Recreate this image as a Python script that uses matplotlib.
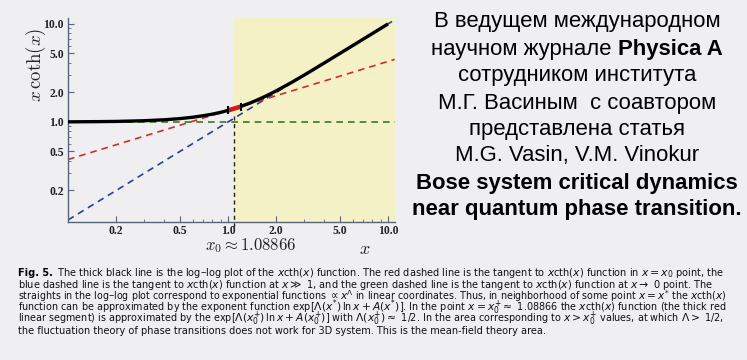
import matplotlib
matplotlib.use("Agg")
import matplotlib.pyplot as plt
from matplotlib.ticker import FixedLocator, NullFormatter

# ---- data ----
x_curve = [0.1, 0.15, 0.2, 0.3, 0.4, 0.5, 0.6, 0.7, 0.8, 0.9, 1.0, 1.1, 1.2,
           1.35, 1.5, 1.75, 2.0, 2.5, 3.0, 4.0, 5.0, 6.0, 8.0, 10.0]
y_curve = [1.003, 1.008, 1.013, 1.030, 1.053, 1.082, 1.117, 1.158, 1.203,
           1.253, 1.313, 1.374, 1.439, 1.544, 1.657, 1.859, 2.075, 2.534,
           3.015, 4.003, 5.0, 6.0, 8.0, 10.0]
red_x = [0.1, 11.0]
red_y = [0.414, 4.35]
blue_x = [0.1, 11.0]
blue_y = [0.1, 11.0]
green_x = [0.1, 11.0]
green_y = [1.0, 1.0]
seg_x = [1.0, 1.2]
seg_y = [1.310, 1.435]
x0 = 1.08866
vline_y = [0.085, 1.15]
xticks = [0.2, 0.5, 1.0, 2.0, 5.0, 10.0]
yticks = [0.2, 0.5, 1.0, 2.0, 5.0, 10.0]
tick_labels = ["0.2", "0.5", "1.0", "2.0", "5.0", "10.0"]
minor_x = [0.3, 0.4, 0.6, 0.7, 0.8, 0.9, 3, 4, 6, 7, 8, 9]
minor_y = [0.3, 0.4, 0.6, 0.7, 0.8, 0.9, 3, 4, 6, 7, 8, 9]

ru_lines = ["В ведущем международном",
            ("научном журнале ", "Physica A"),
            "сотрудником института",
            "М.Г. Васиным  с соавтором",
            "представлена статья",
            "M.G. Vasin, V.M. Vinokur"]
ru_bold = ["Bose system critical dynamics",
           "near quantum phase transition."]

caption = [
    r"The thick black line is the log–log plot of the $x$cth($x$) function. The red dashed line is the tangent to $x$cth($x$) function in $x = x_0$ point, the",
    r"blue dashed line is the tangent to $x$cth($x$) function at $x \gg$ 1, and the green dashed line is the tangent to $x$cth($x$) function at $x \rightarrow$ 0 point. The",
    r"straights in the log–log plot correspond to exponential functions $\propto x^{\Lambda}$ in linear coordinates. Thus, in neighborhood of some point $x = x^{*}$ the $x$cth($x$)",
    r"function can be approximated by the exponent function exp[$\Lambda(x^{*})\,$ln$\,x + A(x^{*})$]. In the point $x = x_0^{+} \approx$ 1.08866 the $x$cth($x$) function (the thick red",
    r"linear segment) is approximated by the exp[$\Lambda(x_0^{+})\,$ln$\,x + A(x_0^{+})$] with $\Lambda(x_0^{+}) \approx$ 1/2. In the area corresponding to $x > x_0^{+}$ values, at which $\Lambda >$ 1/2,",
    r"the fluctuation theory of phase transitions does not work for 3D system. This is the mean-field theory area.",
]

bg = "#efeff2"
fig = plt.figure(figsize=(7.47, 3.6), dpi=100, facecolor=bg)
ax = fig.add_axes([68/747, 1-222/360, (395-68)/747, (222-18)/360])
ax.set_facecolor("none")
ax.set_xscale("log")
ax.set_yscale("log")
ax.set_xlim(0.1, 11.06)
ax.set_ylim(0.0954, 11.5)

ax.axvspan(x0, 11.06, color="#f4f1c6", zorder=0, lw=0)

ax.plot(green_x, green_y, color="#3a7a20", lw=1.2, dashes=(4, 3), zorder=2)
ax.plot(blue_x, blue_y, color="#2a3f9a", lw=1.2, dashes=(4, 3), zorder=2)
ax.plot(red_x, red_y, color="#d62a2a", lw=1.2, dashes=(4, 3), zorder=2)
ax.plot([x0, x0], vline_y, color="#222222", lw=1.0, dashes=(3, 2.5), zorder=2, clip_on=False)
ax.plot(x_curve, y_curve, color="black", lw=2.4, zorder=3, solid_capstyle="butt")
ax.plot(seg_x, seg_y, color="#d61818", lw=3.2, zorder=4, solid_capstyle="butt")
ax.plot(seg_x, seg_y, ls="none", marker="|", ms=6, mew=1.5, color="black", zorder=5)

for s in ["top", "right"]:
    ax.spines[s].set_visible(False)
for s in ["left", "bottom"]:
    ax.spines[s].set_color("#5a6478")
    ax.spines[s].set_linewidth(1.0)

ax.xaxis.set_major_locator(FixedLocator(xticks))
ax.yaxis.set_major_locator(FixedLocator(yticks))
ax.xaxis.set_minor_locator(FixedLocator(minor_x))
ax.yaxis.set_minor_locator(FixedLocator(minor_y))
ax.xaxis.set_minor_formatter(NullFormatter())
ax.yaxis.set_minor_formatter(NullFormatter())
ax.set_xticklabels(tick_labels)
ax.set_yticklabels(tick_labels)
ax.tick_params(which="major", direction="in", length=4, width=0.8, color="#5a6478")
ax.tick_params(axis="x", which="major", pad=2)
ax.tick_params(axis="y", which="major", pad=3)
ax.tick_params(which="minor", direction="in", length=2, width=0.6, color="#5a6478")
for lab in ax.get_xticklabels() + ax.get_yticklabels():
    lab.set_fontfamily("Liberation Serif")
    lab.set_fontweight("bold")
    lab.set_fontsize(8.4)
    lab.set_color("#222222")

fig.text(36/747, 1-65/360, r"$x\,\coth(x)$", rotation=90, ha="center", va="center",
         fontsize=13.5, math_fontfamily="cm", color="#222222")
fig.text(365/747, 1-249/360, r"$x$", ha="center", va="center", fontsize=13,
         math_fontfamily="cm", color="#222222")
fig.text(251/747, 1-246/360, r"$x_0 \approx 1.08866$", ha="center", va="center",
         fontsize=12, math_fontfamily="cm", color="#222222")

# Russian text block
ru_y = [21, 49, 76, 103, 129, 156, 183, 209]
cx = 577/747
fs_ru = 15.9
r = fig.canvas.get_renderer()
for i, line in enumerate(ru_lines):
    y = 1 - ru_y[i]/360
    if isinstance(line, tuple):
        t1 = fig.text(0, y, line[0], fontsize=fs_ru, family="Liberation Sans", va="center")
        t2 = fig.text(0, y, line[1], fontsize=fs_ru, family="Liberation Sans", weight="bold", va="center")
        w1 = t1.get_window_extent(r).width / fig.bbox.width
        w2 = t2.get_window_extent(r).width / fig.bbox.width
        start = cx - (w1 + w2) / 2
        t1.set_x(start)
        t2.set_x(start + w1)
    else:
        fig.text(cx, y, line, fontsize=fs_ru, family="Liberation Sans", ha="center", va="center")
for j, line in enumerate(ru_bold):
    fig.text(cx, 1 - ru_y[6 + j]/360, line, fontsize=fs_ru, family="Liberation Sans",
             weight="bold", ha="center", va="center")

# caption
cap_y = [273, 284.5, 296, 307.5, 319, 330.5]
fs_cap = 7.8
right_px = 729
for i, line in enumerate(caption):
    y = 1 - cap_y[i]/360
    x = 18/747
    if i == 0:
        tb = fig.text(x, y, "Fig. 5.", fontsize=fs_cap, family="DejaVu Sans", stretch="condensed",
                      weight="bold", va="center", math_fontfamily="dejavusans")
        x += tb.get_window_extent(r).width / fig.bbox.width + 4/747
    t = fig.text(x, y, line, fontsize=fs_cap, family="DejaVu Sans", stretch="condensed",
                 va="center", math_fontfamily="dejavusans", color="#111111")
    avail = right_px - x * 747
    w = t.get_window_extent(r).width
    if w > avail:
        t.set_fontsize(fs_cap * avail / w)

fig.savefig("out.png", dpi=100, facecolor=bg)
